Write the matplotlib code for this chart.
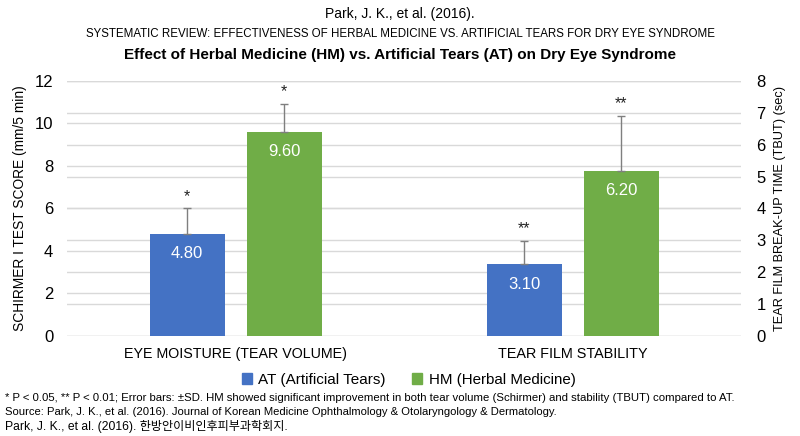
import matplotlib
matplotlib.use("Agg")
import matplotlib.pyplot as plt
from matplotlib.patches import Patch

plt.rcParams['font.family'] = ['Liberation Sans', 'DejaVu Sans']

# data
categories = ["EYE MOISTURE (TEAR VOLUME)", "TEAR FILM STABILITY"]
series = ["AT (Artificial Tears)", "HM (Herbal Medicine)"]
colors = ["#4472C4", "#70AD47"]

# eye moisture -> left axis (Schirmer), stability -> right axis (TBUT)
schirmer_vals = [4.80, 9.60]
schirmer_sd = [1.2, 1.33]
schirmer_labels = ["4.80", "9.60"]
schirmer_sig = ["*", "*"]

tbut_vals = [2.25, 5.19]      # bar heights as drawn in the source
tbut_sd = [0.73, 1.71]
tbut_labels = ["3.10", "6.20"]
tbut_sig = ["**", "**"]

left_ticks = [0, 2, 4, 6, 8, 10, 12]
right_ticks = [0, 1, 2, 3, 4, 5, 6, 7, 8]

fig = plt.figure(figsize=(8, 4.36), dpi=100)
pos = [0.084, 0.2294, 0.8425, 0.585]
grid_c = "#d9d9d9"

# gridlines for both scales on background axes
for lim, ticks in (((0, 12), left_ticks), ((0, 8), right_ticks)):
    bg = fig.add_axes(pos, zorder=0)
    bg.set_ylim(*lim)
    bg.set_yticks(ticks)
    bg.set_xticks([])
    bg.tick_params(length=0, labelleft=False)
    bg.grid(axis='y', color=grid_c, linewidth=1)
    bg.patch.set_visible(False)
    for s in bg.spines.values():
        s.set_visible(False)

ax = fig.add_axes(pos, zorder=2)
ax2 = ax.twinx()
ax2.set_zorder(3)

width = 0.2225
offs = [-0.144, 0.144]

for a in (ax, ax2):
    for s in a.spines.values():
        s.set_visible(False)
    a.tick_params(length=0, labelsize=12)
    a.patch.set_visible(False)


def draw_bar(a, x, h, sd, lab, sig, col):
    a.bar(x, h, width, color=col, zorder=3)
    a.errorbar(x, h, yerr=[[0], [sd]], fmt='none', ecolor='#7f7f7f',
               elinewidth=1, capsize=3, capthick=1, zorder=4)
    a.annotate(lab, (x, h), xytext=(0, -20), textcoords='offset pixels',
               ha='center', va='center', color='white', fontsize=12, zorder=5)
    a.annotate(sig, (x, h + sd), xytext=(0, 12), textcoords='offset pixels',
               ha='center', va='center', color='#222222', fontsize=11.5, zorder=5)


for i in range(2):
    draw_bar(ax, 0 + offs[i], schirmer_vals[i], schirmer_sd[i],
             schirmer_labels[i], schirmer_sig[i], colors[i])
    draw_bar(ax2, 1 + offs[i], tbut_vals[i], tbut_sd[i],
             tbut_labels[i], tbut_sig[i], colors[i])

ax.set_xlim(-0.5, 1.5)
ax.set_ylim(0, 12)
ax2.set_ylim(0, 8)
ax.set_yticks(left_ticks)
ax2.set_yticks(right_ticks)
ax.set_xticks([0, 1])
ax.set_xticklabels(categories)
ax.tick_params(axis='x', pad=8)
ax.tick_params(axis='y', pad=10)
ax2.tick_params(axis='y', pad=11)

ylab = ax.set_ylabel("SCHIRMER I TEST SCORE (mm/5 min)")
ylab2 = ax2.set_ylabel("TEAR FILM BREAK-UP TIME (TBUT) (sec)")
ax.yaxis.set_label_coords(-0.059, 0.5)
ax2.yaxis.set_label_coords(1.049, 0.5)

t1 = fig.text(0.5, 0.968, "Park, J. K., et al. (2016).", ha='center', va='center')
t2 = fig.text(0.5, 0.922, "SYSTEMATIC REVIEW: EFFECTIVENESS OF HERBAL MEDICINE VS. ARTIFICIAL TEARS FOR DRY EYE SYNDROME",
              ha='center', va='center')
t3 = fig.text(0.5, 0.873, "Effect of Herbal Medicine (HM) vs. Artificial Tears (AT) on Dry Eye Syndrome",
              ha='center', va='center', fontweight='bold')

handles = [Patch(color=c, label=s) for c, s in zip(colors, series)]
leg = fig.legend(handles=handles, loc='center', bbox_to_anchor=(0.511, 0.128), ncol=2,
                 frameon=False, fontsize=12, handlelength=0.6, handleheight=0.6,
                 handletextpad=0.4, columnspacing=1.6)

notes = ["* P < 0.05, ** P < 0.01; Error bars: \u00b1SD. HM showed significant improvement in both tear volume (Schirmer) and stability (TBUT) compared to AT.",
         "Source: Park, J. K., et al. (2016). Journal of Korean Medicine Ophthalmology & Otolaryngology & Dermatology.",
         "Park, J. K., et al. (2016). 한방안이비인후피부과학회지."]
note_txt = []
for k, t in enumerate(notes):
    note_txt.append(fig.text(0.006, 0.087 - k * 0.033, t, ha='left', va='center',
                             family=['Liberation Sans', 'Noto Sans CJK KR']))

# fit text sizes to the widths measured on the source image (pixels)
fig.canvas.draw()
r = fig.canvas.get_renderer()


def fit(t, target, vertical=False):
    bb = t.get_window_extent(renderer=r)
    cur = bb.height if vertical else bb.width
    t.set_fontsize(t.get_fontsize() * target / cur)


fit(t1, 149)
fit(t2, 626)
fit(t3, 551)
for t, w in zip(note_txt, [733, 552, 282]):
    fit(t, w)
for t, w in zip(ax.get_xticklabels(), [224, 150]):
    fit(t, w)
for t, w in zip(leg.get_texts(), [128, 148]):
    fit(t, w)
fit(ylab, 246, vertical=True)
fit(ylab2, 246, vertical=True)

fig.savefig("out.png", dpi=100)
